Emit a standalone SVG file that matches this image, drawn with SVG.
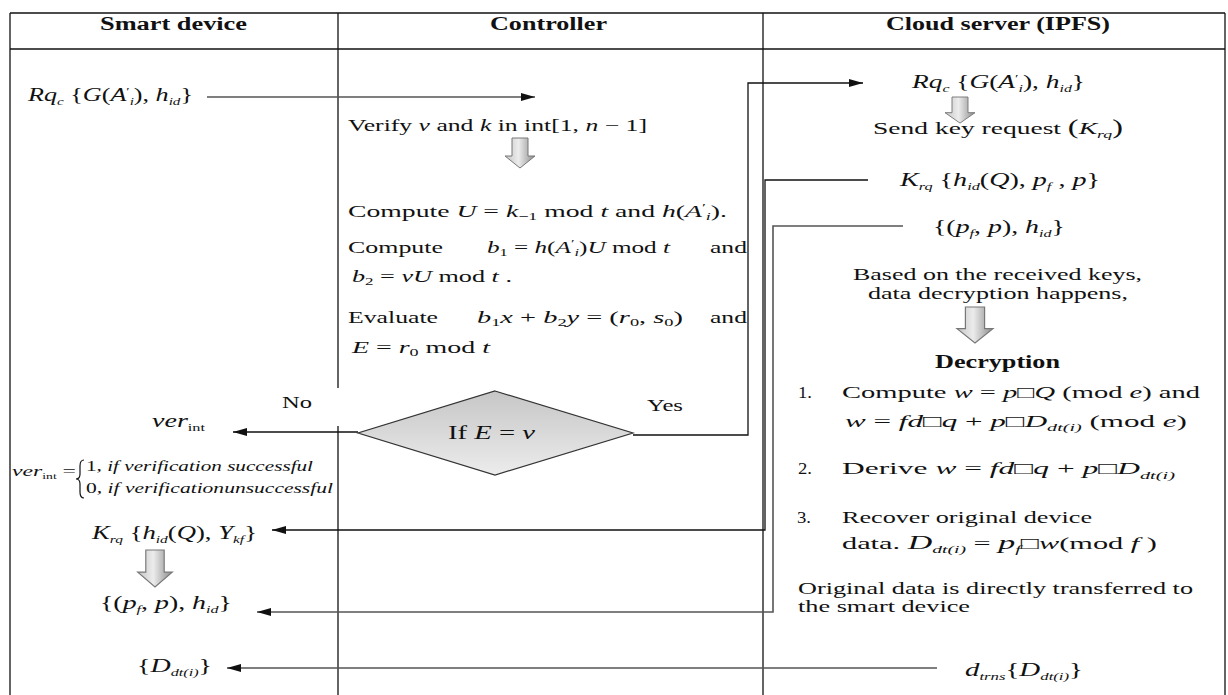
<svg xmlns="http://www.w3.org/2000/svg" width="1228" height="695" viewBox="0 0 1228 695">
<style>
.t{font-family:"Liberation Serif","Times New Roman",serif;fill:#111;}
.hd{font-weight:bold;font-size:18px;}
.bd{font-size:17px;}
.m{font-size:19px;}
.i{font-style:italic;}
.s{font-size:11px;}
.tb{stroke:#111;stroke-width:1.3;fill:none;}
.cn{stroke:#111;stroke-width:1.3;fill:none;}
.cg{stroke:#555;stroke-width:1.6;fill:none;}
.ba{fill:url(#bag);stroke:#777;stroke-width:1;}
</style>
<defs>
<marker id="ah" viewBox="0 0 14 8" refX="14" refY="4" markerWidth="14" markerHeight="8" markerUnits="userSpaceOnUse" orient="auto">
<path d="M0,0 L14,4 L0,8 Z" fill="#111"/>
</marker>
<linearGradient id="bag" x1="0" y1="0" x2="1" y2="0">
<stop offset="0" stop-color="#c4c4c4"/>
<stop offset="0.45" stop-color="#ececec"/>
<stop offset="1" stop-color="#8a8a8a"/>
</linearGradient>
<linearGradient id="dg" x1="0" y1="0" x2="0" y2="1">
<stop offset="0" stop-color="#c6c6c6"/>
<stop offset="1" stop-color="#ececec"/>
</linearGradient>
<path id="barrow" d="M-8,0 H8 V18 H15 L0,30 L-15,18 H-8 Z"/>
</defs>
<rect width="1228" height="695" fill="#fff"/>

<g id="table">
<line class="tb" x1="10" y1="13" x2="1225" y2="13"/>
<line class="tb" x1="10" y1="49" x2="1225" y2="49"/>
<line class="tb" x1="10" y1="13" x2="10" y2="695"/>
<line class="tb" x1="1225" y1="13" x2="1225" y2="695"/>
<line class="tb" x1="338" y1="13" x2="338" y2="388"/>
<line class="tb" x1="338" y1="426" x2="338" y2="695"/>
<line class="tb" x1="763" y1="13" x2="763" y2="695"/>
<text class="t hd" x="100" y="30" textLength="147" lengthAdjust="spacingAndGlyphs">Smart device</text>
<text class="t hd" x="490" y="30" textLength="117" lengthAdjust="spacingAndGlyphs">Controller</text>
<text class="t hd" x="886" y="30" textLength="224" lengthAdjust="spacingAndGlyphs">Cloud server (IPFS)</text>
</g>

<g id="connectors">
<line class="cg" x1="207" y1="97" x2="535" y2="97" marker-end="url(#ah)"/>
<polyline class="cn" points="633,435 748,435 748,83 863,83" marker-end="url(#ah)"/>
<line class="cn" x1="358" y1="432" x2="233" y2="432" marker-end="url(#ah)"/>
<polyline class="cn" points="868,180 765,180 765,530 272,530" marker-end="url(#ah)"/>
<polyline class="cg" points="903,226 773,226 773,612 257,612" marker-end="url(#ah)"/>
<line class="cg" x1="937" y1="668" x2="227" y2="668" marker-end="url(#ah)"/>
</g>

<g id="smart-device">
<text class="t m" x="28" y="101" textLength="165" lengthAdjust="spacingAndGlyphs"><tspan class="i">Rq</tspan><tspan class="i s" dy="4">c</tspan><tspan dy="-4"> {</tspan><tspan class="i">G</tspan>(<tspan class="i">A</tspan><tspan class="s" dy="-6">′</tspan><tspan class="i s" dy="10">i</tspan><tspan dy="-4">), </tspan><tspan class="i">h</tspan><tspan class="i s" dy="4">id</tspan><tspan dy="-4">}</tspan></text>
<text class="t m" x="152" y="427" textLength="53" lengthAdjust="spacingAndGlyphs"><tspan class="i">ver</tspan><tspan class="s" dy="4">int</tspan></text>
<text class="t" style="font-size:14px" x="12" y="476" textLength="64" lengthAdjust="spacingAndGlyphs"><tspan class="i">ver</tspan><tspan style="font-size:8px" dy="3">int</tspan><tspan dy="-3"> =</tspan></text>
<path d="M84,460 Q80,460 80,466 V474 Q80,479 76,479 Q80,479 80,484 V492 Q80,498 84,498" stroke="#111" stroke-width="1.2" fill="none"/>
<text class="t" style="font-size:14px" x="86" y="471" textLength="227" lengthAdjust="spacingAndGlyphs">1, <tspan class="i">if verification successful</tspan></text>
<text class="t" style="font-size:14px" x="86" y="493" textLength="247" lengthAdjust="spacingAndGlyphs">0, <tspan class="i">if verificationunsuccessful</tspan></text>
<text class="t m" x="92" y="539" textLength="165" lengthAdjust="spacingAndGlyphs"><tspan class="i">K</tspan><tspan class="i s" dy="4">rq</tspan><tspan dy="-4"> {</tspan><tspan class="i">h</tspan><tspan class="i s" dy="4">id</tspan><tspan dy="-4">(</tspan><tspan class="i">Q</tspan>), <tspan class="i">Y</tspan><tspan class="i s" dy="4">kf</tspan><tspan dy="-4">}</tspan></text>
<use href="#barrow" class="ba" transform="translate(155,550) scale(1.15,1.23)"/>
<text class="t m" x="100" y="609" textLength="132" lengthAdjust="spacingAndGlyphs">{(<tspan class="i">p</tspan><tspan class="i s" dy="4">f</tspan><tspan dy="-4">, </tspan><tspan class="i">p</tspan>), <tspan class="i">h</tspan><tspan class="i s" dy="4">id</tspan><tspan dy="-4">}</tspan></text>
<text class="t m" x="137" y="672" textLength="75" lengthAdjust="spacingAndGlyphs">{<tspan class="i">D</tspan><tspan class="i s" dy="4">dt(i)</tspan><tspan dy="-4">}</tspan></text>
</g>

<g id="controller">
<text class="t bd" x="348" y="131" textLength="299" lengthAdjust="spacingAndGlyphs">Verify <tspan class="i">v</tspan> and <tspan class="i">k</tspan> in int[1, <tspan class="i">n</tspan> − 1]</text>
<use href="#barrow" class="ba" transform="translate(520,138)"/>
<text class="t bd" x="348" y="217" textLength="379" lengthAdjust="spacingAndGlyphs">Compute <tspan class="i">U</tspan> = <tspan class="i">k</tspan><tspan class="s" dy="3">−1</tspan><tspan dy="-3"> mod </tspan><tspan class="i">t</tspan> and <tspan class="i">h</tspan>(<tspan class="i">A</tspan><tspan class="s" dy="-6">′</tspan><tspan class="i s" dy="9">i</tspan><tspan dy="-3">).</tspan></text>
<text class="t bd" x="348" y="253" textLength="95" lengthAdjust="spacingAndGlyphs">Compute</text>
<text class="t bd" x="487" y="253" textLength="183" lengthAdjust="spacingAndGlyphs"><tspan class="i">b</tspan><tspan class="s" dy="3">1</tspan><tspan dy="-3"> = </tspan><tspan class="i">h</tspan>(<tspan class="i">A</tspan><tspan class="s" dy="-6">′</tspan><tspan class="i s" dy="9">i</tspan><tspan dy="-3">)</tspan><tspan class="i">U</tspan> mod <tspan class="i">t</tspan></text>
<text class="t bd" x="710" y="253" textLength="37" lengthAdjust="spacingAndGlyphs">and</text>
<text class="t bd" x="352" y="282" textLength="160" lengthAdjust="spacingAndGlyphs"><tspan class="i">b</tspan><tspan class="s" dy="3">2</tspan><tspan dy="-3"> = </tspan><tspan class="i">vU</tspan> mod <tspan class="i">t</tspan> .</text>
<text class="t bd" x="348" y="323" textLength="90" lengthAdjust="spacingAndGlyphs">Evaluate</text>
<text class="t bd" x="477" y="323" textLength="206" lengthAdjust="spacingAndGlyphs"><tspan class="i">b</tspan><tspan class="s" dy="3">1</tspan><tspan class="i" dy="-3">x</tspan> + <tspan class="i">b</tspan><tspan class="s" dy="3">2</tspan><tspan class="i" dy="-3">y</tspan> = (<tspan class="i">r</tspan><tspan class="s" dy="3">0</tspan><tspan dy="-3">, </tspan><tspan class="i">s</tspan><tspan class="s" dy="3">0</tspan><tspan dy="-3">)</tspan></text>
<text class="t bd" x="710" y="323" textLength="37" lengthAdjust="spacingAndGlyphs">and</text>
<text class="t bd" x="352" y="353" textLength="138" lengthAdjust="spacingAndGlyphs"><tspan class="i">E</tspan> = <tspan class="i">r</tspan><tspan class="s" dy="3">0</tspan><tspan dy="-3"> mod </tspan><tspan class="i">t</tspan></text>
<text class="t bd" x="282" y="408" textLength="30" lengthAdjust="spacingAndGlyphs">No</text>
<text class="t bd" x="647" y="411" textLength="36" lengthAdjust="spacingAndGlyphs">Yes</text>
</g>

<g id="decision">
<polygon points="495,391 633,433 495,475 358,433" fill="url(#dg)" stroke="#333" stroke-width="1.2"/>
<text class="t m" x="448" y="439" textLength="87" lengthAdjust="spacingAndGlyphs">If <tspan class="i">E</tspan> = <tspan class="i">v</tspan></text>
</g>

<g id="cloud-server">
<text class="t m" x="912" y="88" textLength="173" lengthAdjust="spacingAndGlyphs"><tspan class="i">Rq</tspan><tspan class="i s" dy="4">c</tspan><tspan dy="-4"> {</tspan><tspan class="i">G</tspan>(<tspan class="i">A</tspan><tspan class="s" dy="-6">′</tspan><tspan class="i s" dy="10">i</tspan><tspan dy="-4">), </tspan><tspan class="i">h</tspan><tspan class="i s" dy="4">id</tspan><tspan dy="-4">}</tspan></text>
<use href="#barrow" class="ba" transform="translate(960,97) scale(1,0.87)"/>
<text class="t bd" x="873" y="134" textLength="250" lengthAdjust="spacingAndGlyphs">Send key request  <tspan style="font-size:20px">(</tspan><tspan class="i">K</tspan><tspan class="i s" dy="4">rq</tspan><tspan dy="-4" style="font-size:20px">)</tspan></text>
<text class="t m" x="900" y="186" textLength="200" lengthAdjust="spacingAndGlyphs"><tspan class="i">K</tspan><tspan class="i s" dy="4">rq</tspan><tspan dy="-4"> {</tspan><tspan class="i">h</tspan><tspan class="i s" dy="4">id</tspan><tspan dy="-4">(</tspan><tspan class="i">Q</tspan>), <tspan class="i">p</tspan><tspan class="i s" dy="4">f</tspan><tspan dy="-4"> , </tspan><tspan class="i">p</tspan>}</text>
<text class="t m" x="933" y="233" textLength="132" lengthAdjust="spacingAndGlyphs">{(<tspan class="i">p</tspan><tspan class="i s" dy="4">f</tspan><tspan dy="-4">, </tspan><tspan class="i">p</tspan>), <tspan class="i">h</tspan><tspan class="i s" dy="4">id</tspan><tspan dy="-4">}</tspan></text>
<text class="t bd" x="853" y="280" textLength="289" lengthAdjust="spacingAndGlyphs">Based on the received keys,</text>
<text class="t bd" x="868" y="299" textLength="260" lengthAdjust="spacingAndGlyphs">data decryption happens,</text>
<use href="#barrow" class="ba" transform="translate(975,307) scale(1.2,1.2)"/>
<text class="t" style="font-weight:bold;font-size:18px" x="935" y="368" textLength="125" lengthAdjust="spacingAndGlyphs">Decryption</text>
<text class="t bd" x="798" y="398" textLength="14" lengthAdjust="spacingAndGlyphs">1.</text>
<text class="t bd" x="842" y="398" textLength="358" lengthAdjust="spacingAndGlyphs">Compute <tspan class="i">w</tspan> = <tspan class="i">p</tspan>□<tspan class="i">Q</tspan> (mod <tspan class="i">e</tspan>) and</text>
<text class="t bd" x="845" y="427" textLength="342" lengthAdjust="spacingAndGlyphs"><tspan class="i">w</tspan> = <tspan class="i">fd</tspan>□<tspan class="i">q</tspan> + <tspan class="i">p</tspan>□<tspan class="i">D</tspan><tspan class="i s" dy="4">dt(i)</tspan><tspan dy="-4"> (mod </tspan><tspan class="i">e</tspan>)</text>
<text class="t bd" x="798" y="474" textLength="14" lengthAdjust="spacingAndGlyphs">2.</text>
<text class="t bd" x="842" y="474" textLength="333" lengthAdjust="spacingAndGlyphs">Derive <tspan class="i">w</tspan> = <tspan class="i">fd</tspan>□<tspan class="i">q</tspan> + <tspan class="i">p</tspan>□<tspan class="i">D</tspan><tspan class="i s" dy="5">dt(i)</tspan></text>
<text class="t bd" x="797" y="523" textLength="14" lengthAdjust="spacingAndGlyphs">3.</text>
<text class="t bd" x="842" y="523" textLength="250" lengthAdjust="spacingAndGlyphs">Recover original device</text>
<text class="t bd" x="842" y="549" textLength="315" lengthAdjust="spacingAndGlyphs">data. <tspan class="i" style="font-size:19px">D</tspan><tspan class="i s" dy="4">dt(i)</tspan><tspan dy="-4"> = </tspan><tspan class="i" style="font-size:19px">p</tspan><tspan class="i s" dy="4">f</tspan><tspan dy="-4">□</tspan><tspan class="i">w</tspan>(mod <tspan class="i">f</tspan> )</text>
<text class="t bd" x="798" y="594" textLength="395" lengthAdjust="spacingAndGlyphs">Original data is directly transferred to</text>
<text class="t bd" x="798" y="612" textLength="172" lengthAdjust="spacingAndGlyphs">the smart device</text>
<text class="t m" x="965" y="676" textLength="118" lengthAdjust="spacingAndGlyphs"><tspan class="i">d</tspan><tspan class="i s" dy="4">trns</tspan><tspan dy="-4">{</tspan><tspan class="i">D</tspan><tspan class="i s" dy="4">dt(i)</tspan><tspan dy="-4">}</tspan></text>
</g>
</svg>
